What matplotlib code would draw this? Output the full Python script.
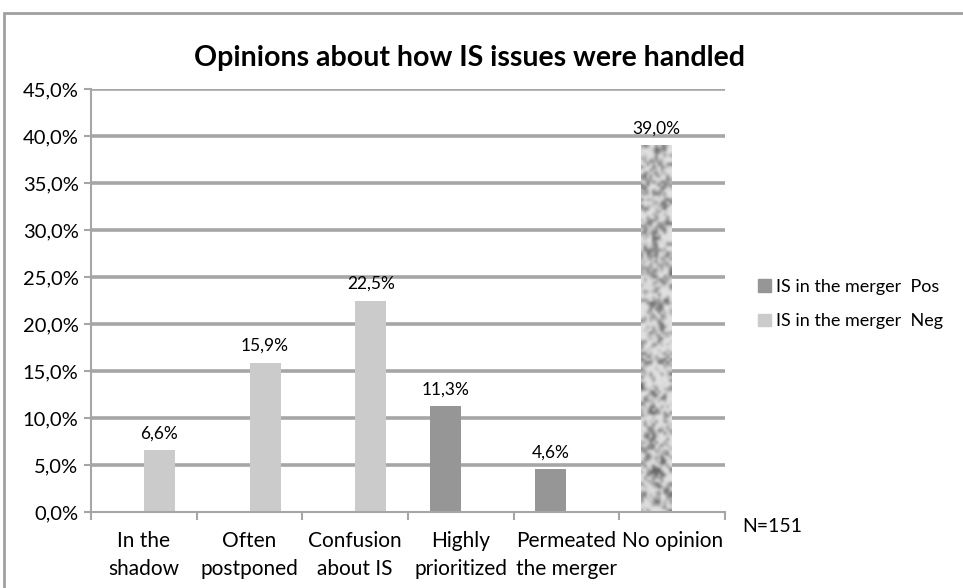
import numpy as np
import matplotlib
matplotlib.use("Agg")
import matplotlib.pyplot as plt
from matplotlib.patches import Rectangle, Patch

categories = ["In the\nshadow", "Often\npostponed", "Confusion\nabout IS",
              "Highly\nprioritized", "Permeated\nthe merger", "No opinion"]
values = [6.6, 15.9, 22.5, 11.3, 4.6, 39.0]
series = ["Neg", "Neg", "Neg", "Pos", "Pos", "Pos"]
textured = [False, False, False, False, False, True]
labels = ["6,6%", "15,9%", "22,5%", "11,3%", "4,6%", "39,0%"]
yticks = [0, 5, 10, 15, 20, 25, 30, 35, 40, 45]
ytick_labels = ["0,0%", "5,0%", "10,0%", "15,0%", "20,0%", "25,0%", "30,0%", "35,0%", "40,0%", "45,0%"]
legend_labels = ["IS in the merger  Pos", "IS in the merger  Neg"]
title = "Opinions about how IS issues were handled"
note = "N=151"

plt.rcParams['font.family'] = ['Lato', 'DejaVu Sans']

W, H = 963, 588
fig = plt.figure(figsize=(W / 100, H / 100), dpi=100)

# outer chart border
fig.patches.append(Rectangle((4 / W, -0.1), 1.2, 1 - 13 / H + 0.1, transform=fig.transFigure,
                             fill=False, edgecolor="#a0a0a0", lw=2.0))

ax = fig.add_axes([91 / W, 1 - 512 / H, (725 - 91) / W, (512 - 89) / H])
colors = {"Pos": "#969696", "Neg": "#cbcbcb"}
offsets = {"Pos": -0.147, "Neg": 0.147}
bw = 0.293

for y in yticks[1:]:
    ax.axhline(y, color="#a6a6a6", lw=2.6, zorder=0)

# granite-like fill texture (style only)
rng = np.random.default_rng(7)
noise = rng.random((124, 11))
pad = np.pad(noise, 1, mode="wrap")
sm = sum(pad[i:i + noise.shape[0], j:j + noise.shape[1]] for i in range(3) for j in range(3)) / 9.0
sm = 0.5 * sm + 0.5 * noise
sm = (sm - sm.min()) / (sm.max() - sm.min())
tex = 0.88 - 0.50 * np.clip((sm - 0.42) * 2.0, 0, 1)

for i, (v, s, t, lab) in enumerate(zip(values, series, textured, labels)):
    x = i + offsets[s]
    if t:
        b = ax.bar(x, v, width=bw, color="none", edgecolor="none", zorder=2)[0]
        im = ax.imshow(tex, cmap="gray", vmin=0, vmax=1, aspect="auto",
                       extent=(x - bw / 2, x + bw / 2, 0, v), zorder=2, interpolation="bicubic")
        im.set_clip_path(b)
    else:
        ax.bar(x, v, width=bw, color=colors[s], zorder=2)
    ax.text(x, v + 0.9, lab, ha="center", va="bottom", fontsize=12.5, color="#000000")

ax.set_xlim(-0.5, 5.5)
ax.set_ylim(0, 45)
ax.set_aspect("auto")
ax.set_yticks(yticks)
ax.set_yticklabels(ytick_labels, fontsize=14.5)
ax.set_xticks(range(len(categories)))
ax.set_xticklabels(categories, fontsize=15, linespacing=1.45)
ax.tick_params(axis="x", which="major", length=0, pad=14)
ax.set_xticks(np.arange(-0.5, 6, 1), minor=True)
ax.tick_params(axis="x", which="minor", length=6, width=1.5, color="#a6a6a6", direction="out")
ax.tick_params(axis="y", length=5, width=1.5, color="#a6a6a6", pad=4)
for sp in ["top", "right"]:
    ax.spines[sp].set_visible(False)
for sp in ["left", "bottom"]:
    ax.spines[sp].set_color("#a6a6a6")
    ax.spines[sp].set_linewidth(1.5)

fig.text(469 / W, 1 - 58 / H, title, ha="center", va="center", fontsize=20.5, fontweight="bold")
fig.text(742 / W, 1 - 526 / H, note, ha="left", va="center", fontsize=14)

handles = [Patch(color=colors["Pos"]), Patch(color=colors["Neg"])]
fig.legend(handles, legend_labels, loc="center left", bbox_to_anchor=(758 / W, 1 - 304 / H),
           frameon=False, fontsize=13, handlelength=0.7, handleheight=0.7, handletextpad=0.3,
           labelspacing=1.05, borderaxespad=0, borderpad=0)

fig.savefig("out.png", dpi=100)
